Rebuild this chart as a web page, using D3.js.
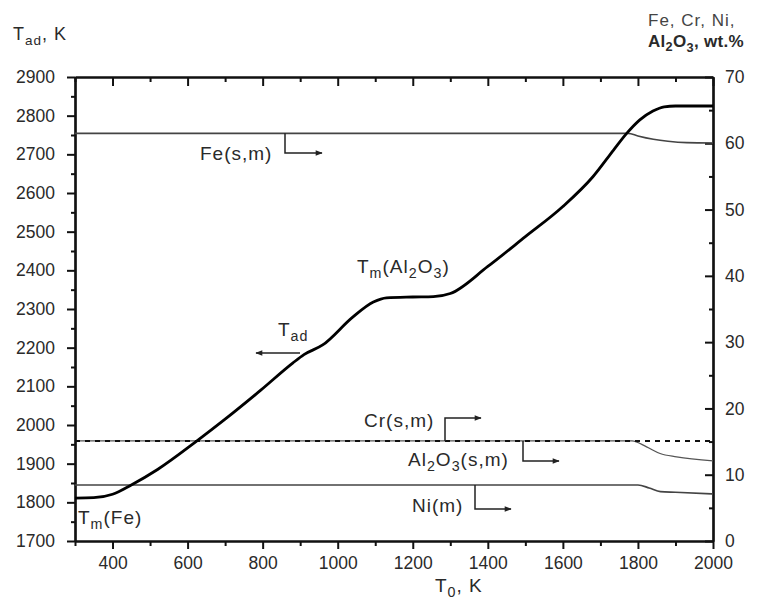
<!DOCTYPE html>
<html>
<head>
<meta charset="utf-8">
<script src="https://cdn.jsdelivr.net/npm/d3@7"></script>
<style>
  body { margin: 0; background: #fff; }
  svg { font-family: "Liberation Sans", Arial, sans-serif; }
  .axis path, .axis line { stroke: #111; }
  .axis path { stroke-width: 2.2; }
  .axis line { stroke-width: 2; }
  .axis text { font-size: 17.5px; fill: #2a2a2a; }
  .note { font-size: 19px; fill: #2a2a2a; letter-spacing: 1px; }
</style>
</head>
<body>
<svg id="chart" width="771" height="603"></svg>
<script>
// adiabatic temperature vs initial temperature
const t0 = [300, 350, 400, 450, 520, 625, 700, 795, 880, 910, 960, 1040, 1095, 1130, 1200, 1255, 1300, 1400, 1500, 1600, 1680, 1735, 1770, 1805, 1840, 1870, 1900, 2000];
const tad = [1811, 1812, 1821, 1845, 1885, 1959, 2015, 2090, 2160, 2182, 2207, 2279, 2318, 2329, 2331, 2332, 2340, 2410, 2487, 2565, 2642, 2711, 2754, 2789, 2812, 2823, 2825, 2825];

// phase content, wt.% (right axis)
const feT0 = [300, 1774, 1800, 1841, 1880, 1930, 2000];
const feWt = [61.5, 61.5, 61.1, 60.6, 60.3, 60.1, 60.05];
const crT0 = [300, 2000];
const crWt = [15.1, 15.1];
const alT0 = [300, 1784, 1823, 1859, 1903, 2000];
const alWt = [15.1, 15.1, 14.2, 13.2, 12.7, 12.1];
const niT0 = [300, 1800, 1830, 1860, 1900, 2000];
const niWt = [8.45, 8.45, 8.0, 7.45, 7.35, 7.1];

const xMajor = [400, 600, 800, 1000, 1200, 1400, 1600, 1800, 2000];
const xMinor = [300, 500, 700, 900, 1100, 1300, 1500, 1700, 1900];
const yMajor = d3.range(1700, 2901, 100);
const yMinor = d3.range(1750, 2900, 100);
const wMajor = d3.range(0, 71, 10);
const wMinor = d3.range(5, 70, 10);

const plotL = 75, plotR = 713, plotT = 77, plotB = 541;

const svg = d3.select('#chart');
const x = d3.scaleLinear().domain([300, 2000]).range([plotL, plotR]);
const y = d3.scaleLinear().domain([1700, 2900]).range([plotB, plotT]);
const yw = d3.scaleLinear().domain([0, 70]).range([plotB, plotT]);

// axes
svg.append('g').attr('class', 'axis').attr('transform', `translate(0,${plotB})`)
    .call(d3.axisBottom(x).tickValues(xMinor).tickSize(5).tickSizeOuter(0).tickFormat(''));
svg.append('g').attr('class', 'axis').attr('transform', `translate(0,${plotB})`)
    .call(d3.axisBottom(x).tickValues(xMajor).tickSize(8).tickSizeOuter(0).tickPadding(8).tickFormat(d3.format('d')));
svg.append('g').attr('class', 'axis').attr('transform', `translate(0,${plotT})`)
    .call(d3.axisTop(x).tickValues(xMinor).tickSize(-5).tickSizeOuter(0).tickFormat(''));
svg.append('g').attr('class', 'axis').attr('transform', `translate(0,${plotT})`)
    .call(d3.axisTop(x).tickValues(xMajor).tickSize(-9).tickSizeOuter(0).tickFormat(''));
svg.append('g').attr('class', 'axis').attr('transform', `translate(${plotL},0)`)
    .call(d3.axisLeft(y).tickValues(yMinor).tickSize(4).tickSizeOuter(0).tickFormat(''));
svg.append('g').attr('class', 'axis').attr('transform', `translate(${plotL},0)`)
    .call(d3.axisLeft(y).tickValues(yMajor).tickSize(8).tickSizeOuter(0).tickPadding(12).tickFormat(d3.format('d')));
svg.append('g').attr('class', 'axis').attr('transform', `translate(${plotR},0)`)
    .call(d3.axisRight(yw).tickValues(wMinor).tickSize(-4).tickSizeOuter(0).tickFormat(''));
svg.append('g').attr('class', 'axis').attr('transform', `translate(${plotR},0)`)
    .call(d3.axisRight(yw).tickValues(wMajor).tickSize(-8).tickSizeOuter(0).tickPadding(12).tickFormat(d3.format('d')));

// arrow head
svg.append('defs').append('marker')
    .attr('id', 'arr')
    .attr('viewBox', '0 0 10 10')
    .attr('refX', 9).attr('refY', 5)
    .attr('markerWidth', 9).attr('markerHeight', 7)
    .attr('markerUnits', 'userSpaceOnUse')
    .attr('orient', 'auto')
    .append('path').attr('d', 'M0,1L10,5L0,9Z').attr('fill', '#222');

const lineW = d3.line().x(d => x(d[0])).y(d => yw(d[1])).curve(d3.curveMonotoneX);
function wLine(xs, ys, color, width, dash) {
    const p = svg.append('path')
        .datum(xs.map((v, i) => [v, ys[i]]))
        .attr('d', lineW)
        .attr('fill', 'none')
        .attr('stroke', color)
        .attr('stroke-width', width);
    if (dash) p.attr('stroke-dasharray', dash);
}
wLine(feT0, feWt, '#444', 1.6);
wLine(niT0, niWt, '#444', 1.6);
wLine(alT0, alWt, '#555', 1.3);
wLine(crT0, crWt, '#111', 2, '5,5');

svg.append('path')
    .datum(t0.map((v, i) => [v, tad[i]]))
    .attr('d', d3.line().x(d => x(d[0])).y(d => y(d[1])).curve(d3.curveMonotoneX))
    .attr('fill', 'none')
    .attr('stroke', '#000')
    .attr('stroke-width', 2.8);

// text with subscripts: parts = [[text, sub?], ...]
function rich(px, py, parts, size, cls) {
    const t = svg.append('text').attr('x', px).attr('y', py).attr('class', cls || 'note');
    if (size) t.style('font-size', size + 'px');
    let down = false;
    parts.forEach(([s, sub]) => {
        const sp = t.append('tspan').text(s);
        if (sub && !down) { sp.attr('dy', '0.35em').style('font-size', '0.75em'); down = true; }
        else if (sub) { sp.style('font-size', '0.75em'); }
        else if (down) { sp.attr('dy', '-0.26em'); down = false; }
    });
    return t;
}

function bracket(x0, y0, y1, x1) {
    svg.append('path')
        .attr('d', `M${x0},${y0}V${y1}H${x1}`)
        .attr('fill', 'none')
        .attr('stroke', '#222')
        .attr('stroke-width', 1.5)
        .attr('marker-end', 'url(#arr)');
}

// annotations
rich(200, 160, [['Fe(s,m)']]);
bracket(285, yw(feWt[0]), 153, 322);

rich(364, 427, [['Cr(s,m)']]);
bracket(445, yw(crWt[0]), 418, 481);

rich(408, 466, [['Al'], ['2', 1], ['O'], ['3', 1], ['(s,m)']]);
bracket(523, yw(alWt[0]), 461, 559);

rich(412, 512, [['Ni(m)']]);
bracket(475, yw(niWt[0]), 509, 511);

rich(357, 273, [['T'], ['m', 1], ['(Al'], ['2', 1], ['O'], ['3', 1], [')']]);
rich(78, 524, [['T'], ['m', 1], ['(Fe)']]);
rich(278, 336, [['T'], ['ad', 1]]);
svg.append('path')
    .attr('d', 'M300,353H256')
    .attr('stroke', '#222')
    .attr('stroke-width', 1.5)
    .attr('marker-end', 'url(#arr)');

// axis titles
rich(13, 40, [['T'], ['ad', 1], [', K']], 18);
rich(435, 592, [['T'], ['0', 1], [', K']], 19);
svg.append('text').attr('x', 648).attr('y', 26).attr('class', 'note')
    .style('font-size', '17px').style('fill', '#444').text('Fe, Cr, Ni,');
rich(648, 47, [['Al'], ['2', 1], ['O'], ['3', 1], [', wt.%']], 17)
    .style('font-weight', 'bold').style('letter-spacing', '0.3px');
</script>
</body>
</html>
